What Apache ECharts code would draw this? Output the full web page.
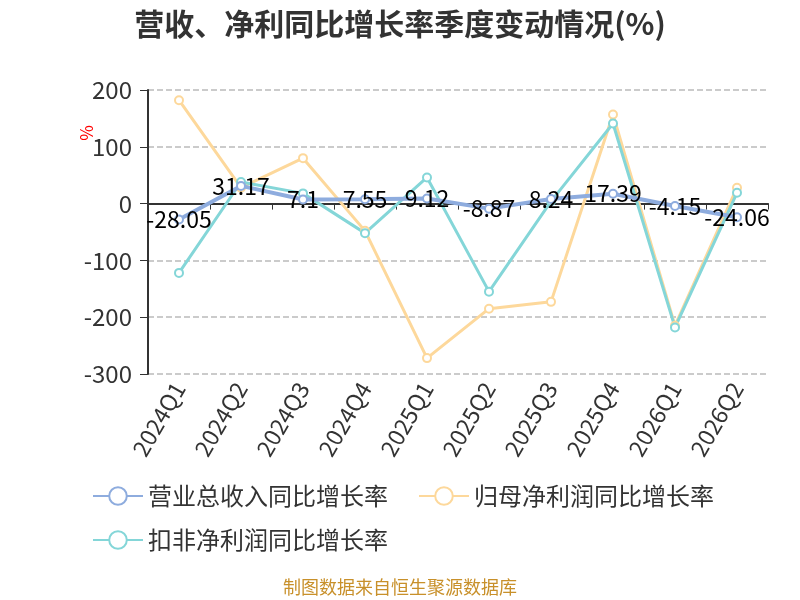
<!DOCTYPE html>
<html>
<head>
<meta charset="utf-8">
<script src="https://cdn.jsdelivr.net/npm/echarts@6/dist/echarts.min.js"></script>
<style>
    html, body { margin: 0; padding: 0; background: #fff; }
    #main { width: 800px; height: 600px; }
</style>
</head>
<body>
<div id="main"></div>
<script>
let quarters = ['2024Q1', '2024Q2', '2024Q3', '2024Q4', '2025Q1', '2025Q2', '2025Q3', '2025Q4', '2026Q1', '2026Q2'];
let revenueGrowth = [-28.05, 31.17, 7.1, 7.55, 9.12, -8.87, 8.24, 17.39, -4.15, -24.06];
let netProfitGrowth = [182, 28, 80, -48, -272, -185, -173, 157, -215, 28];
let deductedProfitGrowth = [-122, 38, 18, -52, 46, -155, 4, 141, -218, 19];
let seriesNames = ['营业总收入同比增长率', '归母净利润同比增长率', '扣非净利润同比增长率'];
let colors = ['#8eacde', '#fdd89b', '#84d6d8'];

let myChart = echarts.init(document.getElementById('main'));

function lineSeries(name, data, color, withLabel) {
    return {
        name: name,
        type: 'line',
        data: data,
        symbol: 'emptyCircle',
        symbolSize: 8,
        z: withLabel ? 5 : 3,
        lineStyle: { width: withLabel ? 4 : 3, color: color },
        itemStyle: { color: color, borderWidth: 2 },
        label: {
            show: withLabel,
            position: 'inside',
            color: '#000',
            fontSize: 23
        }
    };
}

// legend is split in two so the row gap and the item gap can differ
function legendBlock(names, top) {
    return {
        data: names,
        left: 87,
        top: top,
        itemWidth: 50,
        itemHeight: 22,
        itemGap: 30,
        textStyle: { fontSize: 24, color: '#333' }
    };
}

let option = {
    color: colors,
    textStyle: { fontFamily: 'Noto Sans CJK SC' },
    title: {
        text: '营收、净利同比增长率季度变动情况(%)',
        left: 'center',
        top: 4,
        textStyle: { fontSize: 30, fontWeight: 'bold', color: '#333' }
    },
    legend: [
        legendBlock([seriesNames[0], seriesNames[1]], 479),
        legendBlock([seriesNames[2]], 523)
    ],
    grid: { left: 148, right: 32, top: 90, bottom: 226 },
    xAxis: [
        {
            type: 'category',
            data: quarters,
            position: 'bottom',
            axisLine: { show: false, onZero: false },
            axisTick: { show: false },
            axisLabel: { rotate: 60, fontSize: 23, color: '#333', margin: 10 }
        },
        {
            type: 'category',
            data: quarters,
            position: 'bottom',
            axisLine: { show: true, onZero: true, lineStyle: { color: '#333', width: 2 } },
            axisTick: { show: true, length: 6, lineStyle: { color: '#333' } },
            axisLabel: { show: false }
        }
    ],
    yAxis: {
        type: 'value',
        min: -300,
        max: 200,
        interval: 100,
        axisLine: { show: true, lineStyle: { color: '#333', width: 2 } },
        axisTick: { show: true, length: 8, lineStyle: { color: '#333' } },
        axisLabel: { fontSize: 24, color: '#333', margin: 16 },
        splitLine: { lineStyle: { type: 'dashed', color: '#bbb', width: 1.5 } }
    },
    series: [
        lineSeries(seriesNames[0], revenueGrowth, colors[0], true),
        lineSeries(seriesNames[1], netProfitGrowth, colors[1], false),
        lineSeries(seriesNames[2], deductedProfitGrowth, colors[2], false)
    ],
    graphic: [
        {
            type: 'text',
            x: 87,
            y: 133,
            rotation: Math.PI / 2,
            style: { text: '%', fill: 'red', fontSize: 17, align: 'center', verticalAlign: 'middle', fontFamily: 'Noto Sans CJK SC' }
        },
        {
            type: 'text',
            left: 'center',
            top: 578,
            style: { text: '制图数据来自恒生聚源数据库', fill: '#c8902a', fontSize: 18, fontFamily: 'Noto Sans CJK SC' }
        }
    ]
};

myChart.setOption(option);
</script>
</body>
</html>
